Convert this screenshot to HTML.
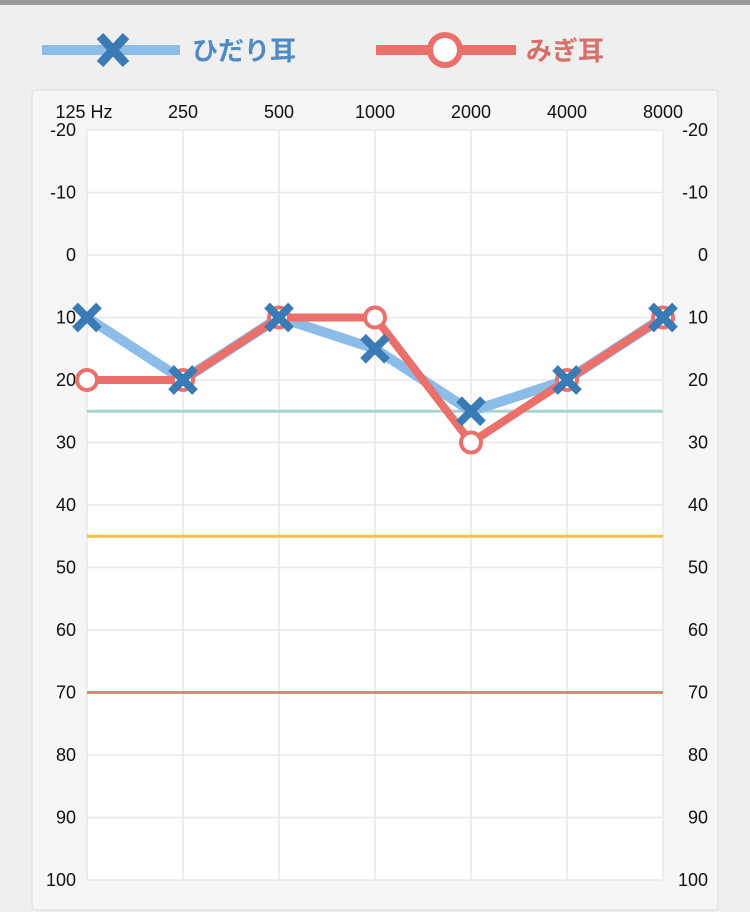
<!DOCTYPE html>
<html><head><meta charset="utf-8"><style>
body{margin:0;width:750px;height:912px;background:#efefef;font-family:"Liberation Sans","Noto Sans CJK JP",sans-serif;overflow:hidden;position:relative}
</style></head><body>
<div style="position:absolute;left:0;top:0;width:750px;height:5px;background:#9a9a9a"></div>
<svg width="750" height="912" style="position:absolute;left:0;top:0">
<g>
 <g>
  <line x1="42" y1="50" x2="180" y2="50" stroke="#8bbde8" stroke-width="10"/>
  <path d="M100 36 L126 64 M126 36 L100 64" stroke="#3a7ab5" stroke-width="9"/>
  <text x="192" y="60" font-size="26" font-weight="bold" fill="#4f8cc4">ひだり耳</text>
 </g>
 <g>
  <line x1="376" y1="50" x2="516" y2="50" stroke="#eb6f6a" stroke-width="10"/>
  <circle cx="445" cy="50" r="15" fill="#fff" stroke="#eb6f6a" stroke-width="6"/>
  <text x="526" y="60" font-size="26" font-weight="bold" fill="#d6706b">みぎ耳</text>
 </g>
</g>
<rect x="32" y="90" width="686" height="820" rx="4" fill="#f6f6f6" stroke="#dedede"/>
<rect x="87" y="130" width="576" height="750" fill="#fff"/>
<g id="grid"></g><g id="refs"></g><g id="labels"></g><g id="series"></g>
</svg>
<script>
const freqs=["125 Hz","250","500","1000","2000","4000","8000"];
const yTicks=[-20,-10,0,10,20,30,40,50,60,70,80,90,100];
const leftEar=[10,20,10,15,25,20,10];
const rightEar=[20,20,10,10,30,20,10];
const refLevels=[25,45,70];
const refColors=["#a6d6d0","#f0c24a","#e8837a"];
const NS="http://www.w3.org/2000/svg";
const X0=87,X1=663,Y0=130,Y1=880;
const x=i=>X0+i*(X1-X0)/(freqs.length-1);
const y=v=>Y0+(v-yTicks[0])*(Y1-Y0)/(yTicks[yTicks.length-1]-yTicks[0]);
function mk(t,a,p){const e=document.createElementNS(NS,t);for(const k in a)e.setAttribute(k,a[k]);p.appendChild(e);return e;}
const G=document.getElementById('grid'),R=document.getElementById('refs'),L=document.getElementById('labels'),S=document.getElementById('series');
freqs.forEach((f,i)=>{
 const l=mk('line',{x1:x(i),x2:x(i),y1:Y0,y2:Y1,stroke:'#e8e8e8','stroke-width':1.5},G);
 
 
 const t=mk('text',{x:x(i)+(i==0?-3:0),y:118,'font-size':18,'text-anchor':'middle',fill:'#111'},L);
 t.textContent=f;
 
 
});
yTicks.forEach(v=>{
 const l=mk('line',{x1:X0,x2:X1,y1:y(v),y2:y(v),stroke:'#e8e8e8','stroke-width':1.5},G);
 
 
 const a=mk('text',{x:76,y:y(v)+6,'font-size':18,'text-anchor':'end',fill:'#111'},L);
 a.textContent=v;
 
 
 const b=mk('text',{x:708,y:y(v)+6,'font-size':18,'text-anchor':'end',fill:'#111'},L);
 b.textContent=v;
 
 
});
refLevels.forEach((v,i)=>{
 const l=mk('line',{x1:X0,x2:X1,y1:y(v),y2:y(v),stroke:refColors[i],'stroke-width':3},R);
 
 
});
const pl=mk('polyline',{points:leftEar.map((v,i)=>x(i)+','+y(v)).join(' '),fill:'none',stroke:'#8bbde8','stroke-width':10,'stroke-linejoin':'round'},S);


const pr=mk('polyline',{points:rightEar.map((v,i)=>x(i)+','+y(v)).join(' '),fill:'none',stroke:'#eb6f6a','stroke-width':8,'stroke-linejoin':'round'},S);


rightEar.forEach((v,i)=>{
 const c=mk('circle',{cx:x(i),cy:y(v),r:10,fill:'#fff',stroke:'#eb6f6a','stroke-width':4},S);
 
 
});
leftEar.forEach((v,i)=>{
 const cx=x(i),cy=y(v),d=12;
 const p=mk('path',{d:`M${cx-d} ${cy-d} L${cx+d} ${cy+d} M${cx+d} ${cy-d} L${cx-d} ${cy+d}`,stroke:'#3a7ab5','stroke-width':8},S);
 
 
});
</script>
</body></html>
